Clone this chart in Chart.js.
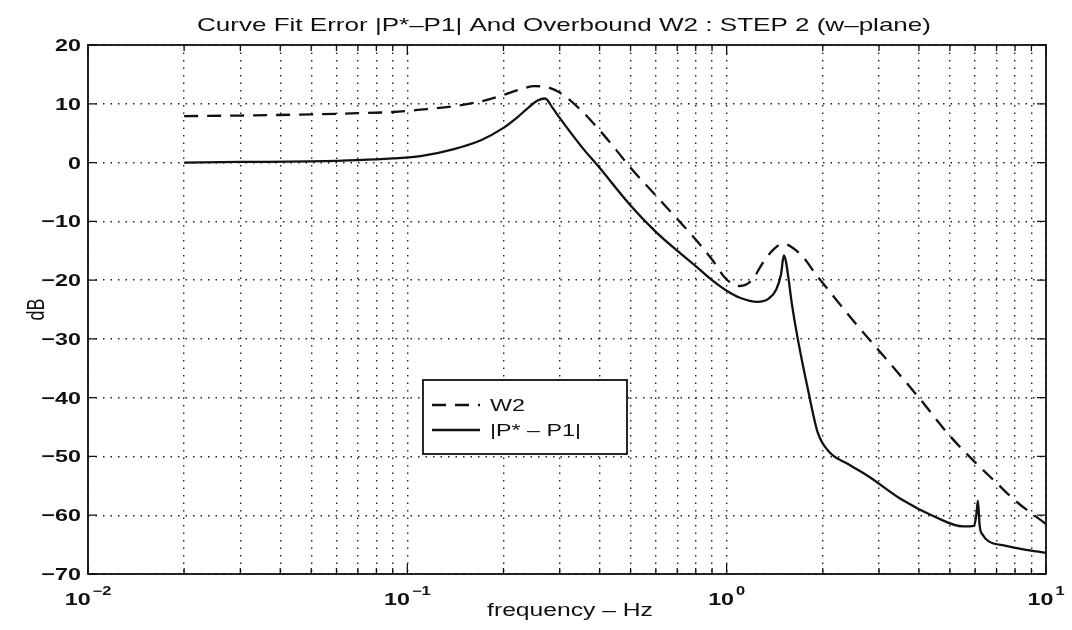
<!DOCTYPE html>
<html>
<head>
<meta charset="utf-8">
<title>Curve Fit Error</title>
<script src="https://cdn.jsdelivr.net/npm/chart.js@4.4.1/dist/chart.umd.min.js"></script>
<style>
  html, body { margin: 0; padding: 0; background: #fff; }
  #wrap { width: 1072px; height: 630px; }
</style>
</head>
<body>
<div id="wrap"><canvas id="grafico" width="1072" height="630"></canvas></div>
<script>
// valores (Hz, dB)
const w2Freq = [0.02, 0.03, 0.05, 0.07, 0.09, 0.11, 0.14, 0.17, 0.2, 0.23, 0.25, 0.27, 0.3, 0.35, 0.4, 0.45,
                0.5, 0.6, 0.7, 0.8, 0.9, 1.0, 1.1, 1.2, 1.3, 1.4, 1.5, 1.6, 1.75, 1.9, 2.0, 2.2, 2.5, 3.0,
                4.0, 5.0, 6.0, 7.0, 8.0, 10];
const w2Db   = [7.9, 8.0, 8.2, 8.4, 8.6, 9.0, 9.6, 10.4, 11.5, 12.6, 13.0, 12.9, 11.9, 8.9, 5.5, 2.2,
                -0.9, -5.6, -9.6, -13.1, -16.5, -19.9, -21.0, -20.0, -17.0, -14.8, -13.8, -14.4, -16.3, -19.0, -20.5, -23.3, -27.0, -32.0,
                -40.0, -46.5, -51.0, -54.5, -57.5, -61.5];

const errFreq = [0.02, 0.03, 0.05, 0.07, 0.09, 0.11, 0.14, 0.17, 0.2, 0.22, 0.24, 0.255, 0.27, 0.285, 0.3,
                 0.35, 0.4, 0.5, 0.6, 0.7, 0.8, 0.9, 1.0, 1.1, 1.25, 1.35, 1.43, 1.48, 1.51, 1.53,
                 1.56, 1.6, 1.67, 1.8, 1.93, 2.1, 2.4, 2.8, 3.5, 4.5, 5.5, 5.95, 6.05, 6.12, 6.2,
                 6.35, 6.6, 7.5, 8.5, 10];
const errDb   = [0, 0.1, 0.2, 0.4, 0.7, 1.1, 2.3, 3.8, 5.9, 7.6, 9.4, 10.5, 10.9, 9.3, 7.6,
                 2.8, -0.9, -7.3, -11.8, -15.0, -17.6, -20.0, -21.8, -23.0, -23.7, -23.2, -21.6, -19.0, -15.8, -16.6,
                 -19.5, -24.0, -30.0, -38.8, -46.0, -49.3, -51.3, -53.5, -57.2, -60.3, -61.9, -61.8, -60.0, -57.5, -61.8,
                 -63.4, -64.4, -65.2, -65.8, -66.4];

const yTicks   = [20, 10, 0, -10, -20, -30, -40, -50, -60, -70];
const xDecades = [0.01, 0.1, 1, 10];
const xSteps   = [1, 2, 3, 4, 5, 6, 7, 8, 9];

const tituloGrafico = 'Curve Fit Error |P*\u2013P1| And Overbound W2 : STEP 2 (w\u2013plane)';
const tituloX = 'frequency \u2013 Hz';
const tituloY = 'dB';
const nomesSeries = ['W2', '|P* \u2013 P1|'];

const FONTE = '"Liberation Sans", Arial, Helvetica, sans-serif';
const ESTICA = 1.37;   // o scan original está esticado na horizontal

// linhas de grade do eixo log: 1..9 x cada década
const xGrade = [];
xDecades.forEach(d => {
  if (d < 10) xSteps.forEach(m => xGrade.push(+(d * m).toPrecision(3)));
});
xGrade.push(10);

function textoEsticado(ctx, txt, x, y, fonte, alinhar) {
  ctx.font = fonte + ' ' + FONTE;
  const w = ctx.measureText(txt).width * ESTICA;
  let x0 = x;
  if (alinhar === 'center') x0 = x - w / 2;
  else if (alinhar === 'right') x0 = x - w;
  ctx.save();
  ctx.translate(x0, y);
  ctx.scale(ESTICA, 1);
  ctx.textAlign = 'left';
  ctx.textBaseline = 'alphabetic';
  ctx.fillText(txt, 0, 0);
  ctx.restore();
  return w;
}

// moldura, ticks internos, rótulos e legenda no estilo MATLAB
const moldura = {
  id: 'moldura',
  afterDraw(chart) {
    const { ctx, chartArea: a, scales: { x, y } } = chart;
    ctx.save();
    ctx.fillStyle = '#111';
    ctx.strokeStyle = '#111';
    ctx.setLineDash([]);

    // caixa
    ctx.lineWidth = 1.8;
    ctx.strokeRect(a.left, a.top, a.right - a.left, a.bottom - a.top);

    // ticks internos
    ctx.lineWidth = 1.3;
    ctx.beginPath();
    yTicks.forEach(v => {
      const py = y.getPixelForValue(v);
      ctx.moveTo(a.left, py);  ctx.lineTo(a.left + 9, py);
      ctx.moveTo(a.right, py); ctx.lineTo(a.right - 9, py);
    });
    xGrade.forEach(v => {
      const px = x.getPixelForValue(v);
      const len = xDecades.includes(v) ? 10 : 6;
      ctx.moveTo(px, a.bottom); ctx.lineTo(px, a.bottom - len);
      ctx.moveTo(px, a.top);    ctx.lineTo(px, a.top + len);
    });
    ctx.stroke();

    // rótulos do eixo y
    yTicks.forEach(v => {
      const txt = String(v).replace('-', '\u2212');
      textoEsticado(ctx, txt, a.left - 7, y.getPixelForValue(v) + 6, 'bold 17px', 'right');
    });

    // rótulos do eixo x (10 com expoente)
    xDecades.forEach(d => {
      const px = x.getPixelForValue(d);
      const expo = String(Math.round(Math.log10(d))).replace('-', '\u2212');
      ctx.font = 'bold 17px ' + FONTE;
      const wb = ctx.measureText('10').width * ESTICA;
      ctx.font = 'bold 12px ' + FONTE;
      const we = ctx.measureText(expo).width * ESTICA;
      const x0 = px - (wb + we + 2) / 2;
      textoEsticado(ctx, '10', x0, a.bottom + 31, 'bold 17px', 'left');
      textoEsticado(ctx, expo, x0 + wb + 2, a.bottom + 21, 'bold 12px', 'left');
    });

    // títulos
    textoEsticado(ctx, tituloGrafico, 564, 31, '19px', 'center');
    textoEsticado(ctx, tituloX, 570, 616, '18px', 'center');
    ctx.save();
    ctx.translate(37, (a.top + a.bottom) / 2);
    ctx.rotate(-Math.PI / 2);
    ctx.scale(1, ESTICA);
    ctx.font = '18px ' + FONTE;
    ctx.textAlign = 'center';
    ctx.textBaseline = 'middle';
    ctx.fillText(tituloY, 0, 0);
    ctx.restore();

    // legenda
    const lx = 423, ly = 380, lw = 204, lh = 74;
    ctx.fillStyle = '#fff';
    ctx.fillRect(lx, ly, lw, lh);
    ctx.strokeStyle = '#111';
    ctx.lineWidth = 1.8;
    ctx.strokeRect(lx, ly, lw, lh);
    chart.data.datasets.forEach((ds, i) => {
      const cy = ly + 25 + i * 25;
      ctx.lineWidth = ds.borderWidth;
      ctx.setLineDash(ds.borderDash || []);
      ctx.beginPath();
      ctx.moveTo(lx + 9, cy);
      ctx.lineTo(lx + 57, cy);
      ctx.stroke();
      ctx.setLineDash([]);
      ctx.fillStyle = '#111';
      textoEsticado(ctx, ds.label, lx + 67, cy + 6, '17px', 'left');
    });
    ctx.restore();
  }
};

const gradeComum = {
  grid: { color: '#222', lineWidth: 1.4, drawTicks: false },
  border: { display: false, dash: [1.5, 6] },
  ticks: { display: false }
};

new Chart(document.getElementById('grafico'), {
  type: 'line',
  data: {
    datasets: [
      {
        label: nomesSeries[0],
        data: w2Freq.map((f, i) => ({ x: f, y: w2Db[i] })),
        borderColor: '#111',
        borderWidth: 2.3,
        borderDash: [14, 9],
        pointRadius: 0,
        fill: false,
        cubicInterpolationMode: 'monotone'
      },
      {
        label: nomesSeries[1],
        data: errFreq.map((f, i) => ({ x: f, y: errDb[i] })),
        borderColor: '#111',
        borderWidth: 2.3,
        pointRadius: 0,
        fill: false,
        cubicInterpolationMode: 'monotone'
      }
    ]
  },
  options: {
    responsive: false,
    animation: false,
    devicePixelRatio: 1,
    layout: { padding: { left: 88, right: 26, top: 45, bottom: 56 } },
    plugins: {
      legend: { display: false },
      title: { display: false },
      tooltip: { enabled: false }
    },
    scales: {
      x: {
        type: 'logarithmic',
        min: 0.01,
        max: 10,
        ...gradeComum,
        afterBuildTicks: s => { s.ticks = xGrade.map(v => ({ value: v })); },
        afterFit: s => { s.height = 0; }
      },
      y: {
        type: 'linear',
        min: -70,
        max: 20,
        ...gradeComum,
        afterBuildTicks: s => { s.ticks = yTicks.map(v => ({ value: v })); },
        afterFit: s => { s.width = 0; }
      }
    }
  },
  plugins: [moldura]
});
</script>
</body>
</html>
